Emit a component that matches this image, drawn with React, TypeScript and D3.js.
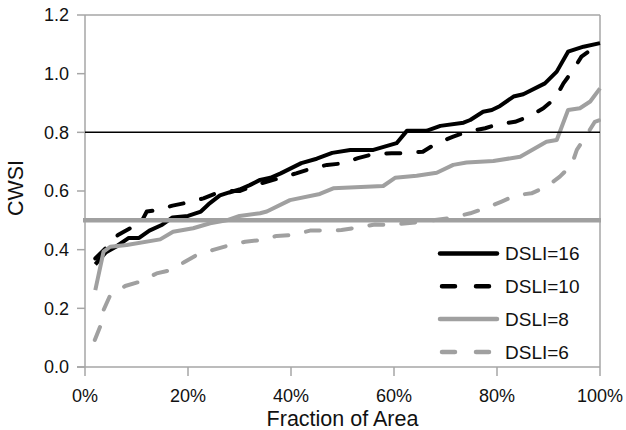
import React from "react";
import * as d3 from "d3";

const xTicks = [0, 0.2, 0.4, 0.6, 0.8, 1.0];
const yTicks = [0, 0.2, 0.4, 0.6, 0.8, 1.0, 1.2];

const dsli16X = [0.02, 0.04, 0.06, 0.085, 0.105, 0.125, 0.15, 0.17, 0.2, 0.225, 0.24, 0.262, 0.28, 0.3, 0.32, 0.34, 0.36, 0.38, 0.42, 0.45, 0.48, 0.515, 0.56, 0.605, 0.625, 0.663, 0.69, 0.735, 0.748, 0.773, 0.79, 0.806, 0.832, 0.851, 0.893, 0.916, 0.938, 0.968, 1.0];
const dsli16Y = [0.35, 0.39, 0.41, 0.44, 0.44, 0.465, 0.485, 0.51, 0.515, 0.53, 0.555, 0.585, 0.595, 0.605, 0.62, 0.638, 0.645, 0.66, 0.695, 0.71, 0.73, 0.74, 0.74, 0.763, 0.805, 0.805, 0.822, 0.833, 0.842, 0.87, 0.876, 0.89, 0.922, 0.93, 0.967, 1.007, 1.075, 1.092, 1.104];

const dsli10X = [0.02, 0.04, 0.064, 0.09, 0.105, 0.12, 0.14, 0.17, 0.197, 0.23, 0.256, 0.28, 0.3, 0.34, 0.38, 0.41, 0.44, 0.47, 0.5, 0.53, 0.56, 0.595, 0.625, 0.656, 0.683, 0.715, 0.741, 0.777, 0.803, 0.835, 0.861, 0.89, 0.913, 0.929, 0.948, 0.964, 1.0];
const dsli10Y = [0.37, 0.405, 0.45, 0.475, 0.48, 0.53, 0.535, 0.55, 0.56, 0.575, 0.593, 0.6, 0.6, 0.625, 0.645, 0.66, 0.677, 0.689, 0.694, 0.712, 0.726, 0.729, 0.729, 0.734, 0.763, 0.785, 0.802, 0.814, 0.828, 0.836, 0.853, 0.882, 0.916, 0.967, 1.013, 1.058, 1.104];

const dsli8X = [0.02, 0.036, 0.049, 0.081, 0.146, 0.171, 0.21, 0.243, 0.275, 0.3, 0.34, 0.353, 0.398, 0.456, 0.482, 0.579, 0.602, 0.644, 0.683, 0.715, 0.741, 0.793, 0.845, 0.874, 0.896, 0.916, 0.938, 0.961, 0.981, 1.0];
const dsli8Y = [0.262, 0.393, 0.41, 0.416, 0.435, 0.461, 0.473, 0.49, 0.5, 0.515, 0.524, 0.53, 0.569, 0.59, 0.609, 0.617, 0.645, 0.652, 0.662, 0.689, 0.697, 0.702, 0.717, 0.746, 0.768, 0.774, 0.876, 0.882, 0.905, 0.95];

const dsli6X = [0.019, 0.032, 0.036, 0.049, 0.078, 0.107, 0.139, 0.168, 0.194, 0.217, 0.249, 0.282, 0.311, 0.343, 0.372, 0.404, 0.437, 0.469, 0.498, 0.531, 0.563, 0.592, 0.625, 0.654, 0.709, 0.748, 0.777, 0.809, 0.838, 0.867, 0.896, 0.922, 0.945, 0.955, 0.974, 0.99, 1.0];
const dsli6Y = [0.092, 0.149, 0.194, 0.245, 0.276, 0.291, 0.319, 0.331, 0.359, 0.382, 0.399, 0.416, 0.427, 0.433, 0.447, 0.45, 0.465, 0.465, 0.467, 0.476, 0.486, 0.484, 0.49, 0.495, 0.508, 0.524, 0.541, 0.564, 0.586, 0.592, 0.615, 0.649, 0.689, 0.74, 0.791, 0.836, 0.842];

const refBlack = 0.8;
const refGray = 0.5;

const seriesNames = ["DSLI=16", "DSLI=10", "DSLI=8", "DSLI=6"];

const BLACK = "#000";
const GRAY = "#a0a0a0";
const AXIS = "#a6a6a6";
const FONT = "'Liberation Sans', Arial, sans-serif";

export default function App() {
  const W = 626, H = 430;
  const m = { left: 85, right: 600, top: 15, bottom: 367 };
  const x = d3.scaleLinear().domain([0, 1]).range([m.left, m.right]);
  const y = d3.scaleLinear().domain([0, 1.2]).range([m.bottom, m.top]);
  const line = d3.line<[number, number]>().x(d => x(d[0])).y(d => y(d[1]));
  const zip = (xs: number[], ys: number[]) => xs.map((v, i) => [v, ys[i]] as [number, number]);

  const series = [
    { name: seriesNames[0], data: zip(dsli16X, dsli16Y), color: BLACK, dash: undefined },
    { name: seriesNames[1], data: zip(dsli10X, dsli10Y), color: BLACK, dash: "14,18" },
    { name: seriesNames[2], data: zip(dsli8X, dsli8Y), color: GRAY, dash: undefined },
    { name: seriesNames[3], data: zip(dsli6X, dsli6Y), color: GRAY, dash: "14,18" },
  ];

  return (
    <svg width={W} height={H} style={{ position: "absolute", left: 0, top: 0, background: "#fff" }} fontFamily={FONT}>
      {/* plot frame */}
      <line x1={m.left} x2={m.right} y1={m.top} y2={m.top} stroke={AXIS} strokeWidth={1.5} />
      <line x1={m.right} x2={m.right} y1={m.top} y2={m.bottom} stroke={AXIS} strokeWidth={1.5} />
      <line x1={m.left} x2={m.left} y1={m.top} y2={m.bottom} stroke={AXIS} strokeWidth={1.5} />
      <line x1={m.left - 8} x2={m.right} y1={m.bottom} y2={m.bottom} stroke={AXIS} strokeWidth={1.5} />
      {yTicks.map(t => (
        <g key={"y" + t}>
          <line x1={m.left - 8} x2={m.left} y1={y(t)} y2={y(t)} stroke={AXIS} strokeWidth={1.5} />
          <text x={69} y={y(t)} dy="0.35em" textAnchor="end" fontSize={18} fill="#111">{t.toFixed(1)}</text>
        </g>
      ))}
      {xTicks.map(t => (
        <g key={"x" + t}>
          <line x1={x(t)} x2={x(t)} y1={m.bottom} y2={m.bottom + 9} stroke={AXIS} strokeWidth={1.5} />
          <text x={x(t)} y={402} textAnchor="middle" fontSize={18} fill="#111">{d3.format(".0%")(t)}</text>
        </g>
      ))}
      <text x={(m.left + m.right) / 2} y={426} textAnchor="middle" fontSize={21.5} fill="#111">Fraction of Area</text>
      <text transform={`translate(23,${188}) rotate(-90)`} textAnchor="middle" fontSize={21.5} fill="#111">CWSI</text>

      {/* series */}
      {series.map(s => (
        <path key={s.name} d={line(s.data) || ""} fill="none" stroke={s.color} strokeWidth={4}
          strokeDasharray={s.dash} strokeLinecap={s.dash ? "round" : "butt"} strokeLinejoin="round" />
      ))}

      {/* reference lines */}
      <line x1={m.left} x2={m.right} y1={y(refBlack)} y2={y(refBlack)} stroke={BLACK} strokeWidth={1.5} />
      <line x1={m.left - 2} x2={m.right + 1} y1={y(refGray)} y2={y(refGray)} stroke={GRAY} strokeWidth={4.5} />

      {/* legend */}
      {series.map((s, i) => {
        const cy = 253.5 + i * 32.8;
        return (
          <g key={"lg" + s.name}>
            <line x1={s.dash ? 442 : 440} x2={s.dash ? 495 : 497} y1={cy} y2={cy} stroke={s.color} strokeWidth={4.5}
              strokeDasharray={s.dash ? "13,21" : undefined} strokeLinecap="round" />
            <text x={505} y={cy} dy="0.36em" fontSize={19} fill="#111">{s.name}</text>
          </g>
        );
      })}
    </svg>
  );
}
